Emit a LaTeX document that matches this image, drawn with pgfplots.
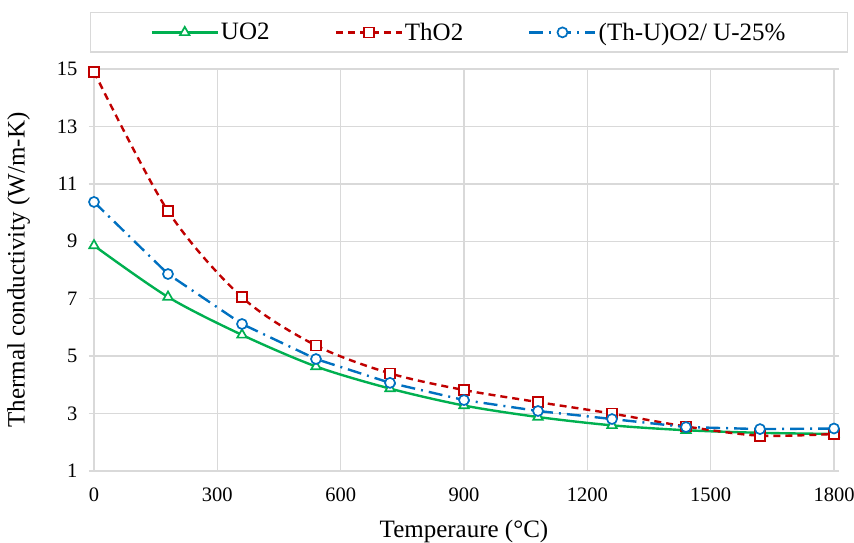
\documentclass[border=0pt]{standalone}
\usepackage{fontspec}
\setmainfont{Liberation Serif}
\usepackage{pgfplots}
\pgfplotsset{compat=1.18}
\definecolor{cgreen}{HTML}{00B050}
\definecolor{cred}{HTML}{C00000}
\definecolor{cblue}{HTML}{0070C0}
\definecolor{cgrid}{HTML}{D9D9D9}
\begin{document}
\begin{tikzpicture}
\begin{axis}[
  name=ax,
  scale only axis, width=740pt, height=402pt,
  xmin=0, xmax=1800, ymin=1, ymax=15,
  xtick={0,300,...,1800}, ytick={1,3,...,15},
  grid=major, grid style={cgrid, line width=1.3pt},
  axis line style={draw=cgrid, line width=1.3pt},
  major tick length=5pt, tick align=outside,
  xtick style={draw=none},
  ytick style={draw=cgrid, line width=1.3pt},
  /pgf/number format/assume math mode=true,
  /pgf/number format/1000 sep={},
  tick label style={font=\fontsize{20.5}{24}\selectfont},
  label style={font=\fontsize{25}{29}\selectfont},
  xlabel={Temperaure (°C)}, ylabel={Thermal conductivity (W/m-K)},
  xticklabel style={yshift=-8pt},
  yticklabel style={xshift=-8pt},
  xlabel style={yshift=-12pt},
  ylabel style={yshift=20pt},
  legend columns=3,
  legend style={name=leg, at={(0.5,1)}, anchor=south, yshift=17pt, xshift=5pt,
    draw=none, line width=2.4pt, inner xsep=59pt, inner ysep=7pt,
    font=\fontsize{25}{28}\selectfont,
    /tikz/every even column/.append style={column sep=63pt}},
  legend image code/.code={\draw[line width=2.4pt, mark repeat=2,mark phase=2] plot coordinates {(0pt,0pt) (33pt,0pt) (66pt,0pt)};},
  every axis plot/.append style={line width=2.4pt, mark size=5.5pt,
    mark options={solid, fill=white, line width=1.7pt}},
]
\addplot[cgreen, smooth, mark=triangle*] coordinates {
  (0,8.85) (180,7.06) (360,5.74) (540,4.64) (720,3.87) (900,3.28)
  (1080,2.88) (1260,2.59) (1440,2.42) (1620,2.33) (1800,2.29)};
\addlegendentry{UO2}
\addplot[cred, smooth, mark=square*, mark size=5pt, dash pattern=on 7pt off 5pt] coordinates {
  (0,14.9) (180,10.05) (360,7.05) (540,5.37) (720,4.40) (900,3.82)
  (1080,3.40) (1260,3.00) (1440,2.55) (1620,2.23) (1800,2.29)};
\addlegendentry{ThO2}
\addplot[cblue, mark=*, mark size=5pt, dash pattern=on 14pt off 6pt on 2pt off 6pt] coordinates {
  (0,10.37) (180,7.86) (360,6.12) (540,4.90) (720,4.07) (900,3.47)
  (1080,3.09) (1260,2.81) (1440,2.53) (1620,2.46) (1800,2.48)};
\addlegendentry{(Th-U)O2/ U-25\%}
\end{axis}
\draw[cgrid, line width=1.3pt] (leg.south west) rectangle (leg.north east);
\pgfresetboundingbox
\path[use as bounding box] (ax.south west) ++(-94pt,-71pt) rectangle ++(854pt,542pt);
\end{tikzpicture}
\end{document}
